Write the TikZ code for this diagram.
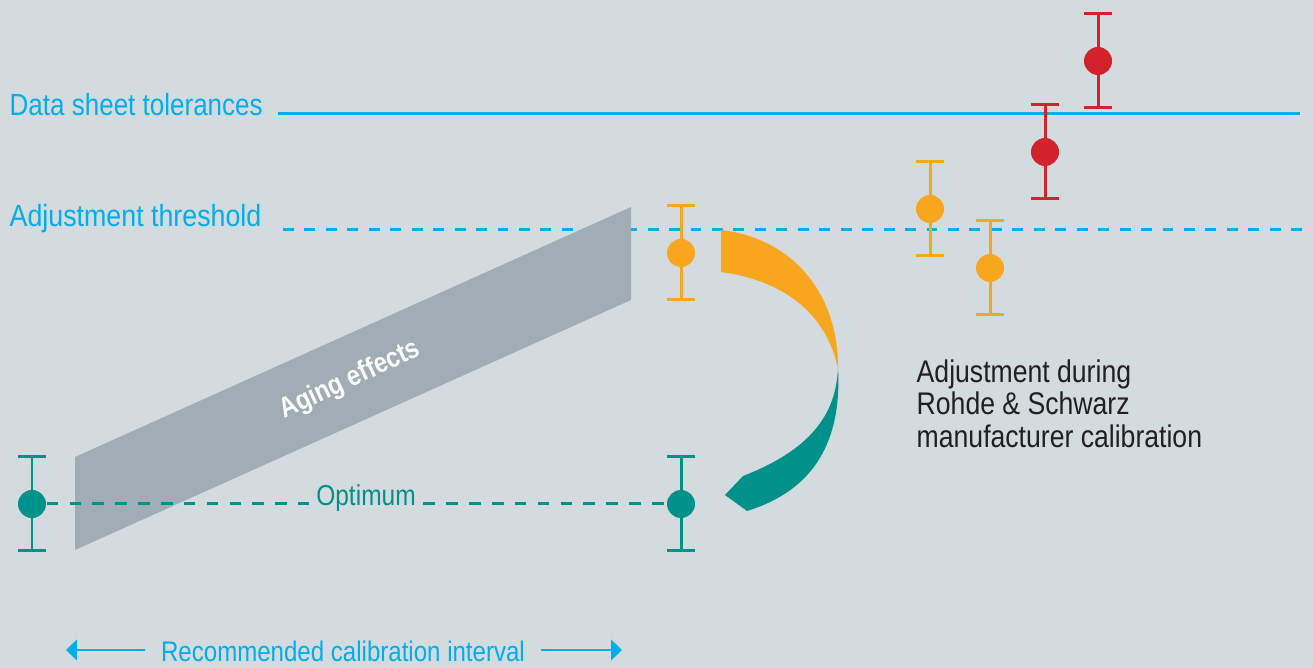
\documentclass[tikz,border=0pt]{standalone}
\usepackage{fontspec}
\setmainfont{Liberation Sans}[FakeStretch=0.85]
\usepackage{tikz}
\usetikzlibrary{arrows.meta}
\usetikzlibrary{positioning}
\definecolor{bgcol}{HTML}{D3DBDF}
\definecolor{cyanc}{HTML}{00AEEF}
\definecolor{tealc}{HTML}{00918B}
\definecolor{orangec}{HTML}{F8A61E}
\definecolor{redc}{HTML}{D2232A}
\definecolor{bandc}{HTML}{A0ADB4}
\definecolor{inkc}{HTML}{231F20}
\tikzset{
    levelname/.style = {
        text=cyanc,
        font=\fontsize{8.7}{10}\selectfont,
        inner sep=0pt,
    },
    optname/.style = {
        text=tealc,
        font=\fontsize{8.2}{10}\selectfont,
        inner sep=2pt,
    },
    intname/.style = {
        text=cyanc,
        font=\fontsize{8.05}{10}\selectfont,
        inner xsep=4.3pt,
        inner ysep=0pt,
    },
    adjtext/.style = {
        text=inkc,
        font=\fontsize{8.9}{9.2}\selectfont,
        align=left,
        inner sep=0pt,
    },
    agingtext/.style = {
        text=white,
        font=\fontsize{8.0}{10}\selectfont\bfseries,
    },
    dot/.style = {
        circle,
        minimum size=0.28cm,
        inner sep=0pt,
    },
    errbar/.pic = {
        \draw (0,-47) -- (0,47);
        \draw (-14,-47) -- (14,-47);
        \draw (-14,47) -- (14,47);
    },
}
\tikzstyle{barline} = [line width=0.85pt]
\tikzstyle{tolline} = [cyanc, line width=0.85pt]
\tikzstyle{dashline} = [dash pattern=on 3.1pt off 3pt]
\tikzstyle{optline} = [tealc, line width=0.85pt, dash pattern=on 3.3pt off 3.2pt]
\tikzstyle{intarrow} = [cyanc, line width=0.85pt, -{Triangle[length=3.1pt,width=5.8pt]}]

\begin{document}
\begin{tikzpicture}[x=0.01cm, y=-0.01cm]
        \fill[bgcol] (0,0) rectangle (1313,668);
        \useasboundingbox (0,0) rectangle (1313,668);

        % limits
        \node(tol)[levelname, anchor=west] at (9,105)
        {Data sheet tolerances};
        \node(thr)[levelname, anchor=west, xscale=1.03] at (9,219)
        {Adjustment threshold};
        \coordinate (tolA) at (278,114);
        \coordinate (tolB) at (1300,114);
        \coordinate (thrA) at (283,230);
        \coordinate (thrB) at (1313,230);
        \draw [tolline] (tolA) -- (tolB);
        \draw [tolline, dashline] (thrA) -- (thrB);

        % aging band
        \fill[bandc] (75,457) -- (631,207) -- (631,300) -- (75,550) -- cycle;
        \node(aging)[agingtext, rotate=25] at (350,380)
        {Aging effects};

        % optimum
        \pic[tealc, barline] at (32,504) {errbar};
        \pic[tealc, barline] at (681,504) {errbar};
        \node(opt1)[dot, fill=tealc] at (32,504) {};
        \node(opt2)[dot, fill=tealc] at (681,504) {};
        \node(optimum)[optname] at (366,498)
        {Optimum};
        \draw [optline] (opt1) -- (opt1 -| optimum.west);
        \draw [optline] (opt2 -| optimum.east) -- (opt2);

        % drifted values
        \pic[orangec, barline] at (681,253) {errbar};
        \pic[orangec, barline] at (930,209) {errbar};
        \pic[orangec, barline] at (990,268) {errbar};
        \pic[redc, barline] at (1045,152) {errbar};
        \pic[redc, barline] at (1098,61) {errbar};
        \node(drift1)[dot, fill=orangec] at (681,253) {};
        \node(drift2)[dot, fill=orangec] at (930,209) {};
        \node(drift3)[dot, fill=orangec] at (990,268) {};
        \node(drift4)[dot, fill=redc] at (1045,152) {};
        \node(drift5)[dot, fill=redc] at (1098,61) {};

        % adjustment
        \fill[orangec] (721,230) .. controls (790,238) and (838,290) .. (838,368)
            .. controls (825,310) and (780,280) .. (721,272) -- cycle;
        \fill[tealc] (838,368) .. controls (842,440) and (815,490) .. (747,511)
            -- (725,495) -- (743,476)
            .. controls (810,450) and (836,415) .. (838,368) -- cycle;
        \node(adj)[adjtext, anchor=north west] at (916,359)
        {Adjustment during\\Rohde \& Schwarz\\manufacturer calibration};

        % interval
        \node(interval)[intname] at (343,651)
        {Recommended calibration interval};
        \coordinate (intL) at (66,650);
        \coordinate (intR) at (622,650);
        \draw [intarrow] (interval.west |- intL) -- (intL);
        \draw [intarrow] (interval.east |- intR) -- (intR);

    \end{tikzpicture}
\end{document}
